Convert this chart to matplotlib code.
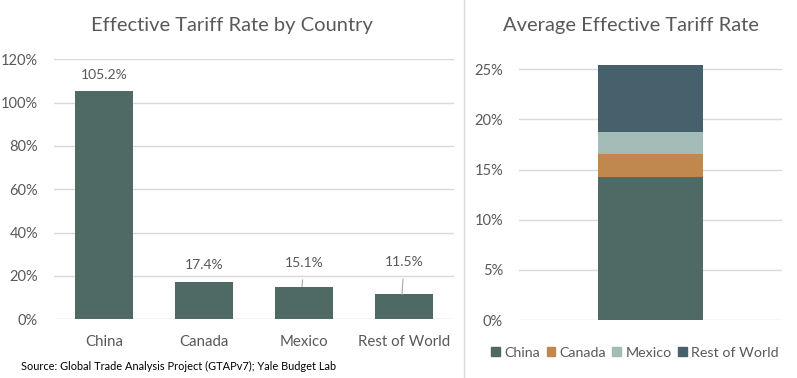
import matplotlib
matplotlib.use("Agg")
import matplotlib.pyplot as plt
from matplotlib.patches import Patch
from matplotlib.ticker import FuncFormatter

plt.rcParams["font.family"] = ["Lato", "DejaVu Sans"]

# data
countries = ["China", "Canada", "Mexico", "Rest of World"]
country_rates = [105.2, 17.4, 15.1, 11.5]
label_offsets = [7.5, 7.7, 11.0, 15.0]
avg_contrib = [14.3, 2.2, 2.25, 6.65]
stack_colors = ["#4f6a64", "#c0874f", "#a3bcb8", "#46606c"]

TEXT = "#595959"
GRID = "#d9d9d9"

fig = plt.figure(figsize=(7.97, 3.78), dpi=100)

# ---- left: rate by country
ax1 = fig.add_axes([54 / 797, 58.7 / 378, 400 / 797, 260 / 378])
x = range(len(countries))
ax1.bar(x, country_rates, width=0.58, color=stack_colors[0], zorder=3)
ax1.set_xlim(-0.5, 3.5)
ax1.set_ylim(0, 120)
ax1.set_yticks(range(0, 121, 20))
ax1.yaxis.set_major_formatter(FuncFormatter(lambda v, p: f"{v:.0f}%"))
ax1.set_xticks(list(x))
ax1.set_xticklabels(countries)
for i, (v, off) in enumerate(zip(country_rates, label_offsets)):
    if off > 8:
        ax1.annotate(f"{v}%", xy=(i - 0.02, v), xytext=(i, v + off),
                     ha="center", va="center", fontsize=10, color=TEXT,
                     arrowprops=dict(arrowstyle="-", color="#a6a6a6", lw=0.8,
                                     shrinkA=6, shrinkB=0))
    else:
        ax1.text(i, v + off, f"{v}%", ha="center", va="center",
                 fontsize=10, color=TEXT)

# ---- right: stacked average
ax2 = fig.add_axes([519 / 797, 58 / 378, 263 / 797, 260.8 / 378])
bottom = 0
for name, val, col in zip(countries, avg_contrib, stack_colors):
    ax2.bar([0], [val], bottom=bottom, width=0.4, color=col, zorder=3, label=name)
    bottom += val
ax2.set_xlim(-0.5, 0.5)
ax2.set_ylim(0, 26)
ax2.set_yticks(range(0, 26, 5))
ax2.yaxis.set_major_formatter(FuncFormatter(lambda v, p: f"{v:.0f}%"))
ax2.set_xticks([])

for ax in (ax1, ax2):
    for s in ax.spines.values():
        s.set_visible(False)
    ax.yaxis.grid(True, color=GRID, lw=1, zorder=0)
    ax.tick_params(axis="both", length=0, colors=TEXT, labelsize=10.5)
    ax.tick_params(axis="y", pad=11.5)
ax1.tick_params(axis="x", pad=11, labelsize=10.8)

handles = [Patch(color=c, label=n) for n, c in zip(countries, stack_colors)]
fig.legend(handles=handles, loc="center", bbox_to_anchor=(635 / 797, 1 - 353 / 378),
           ncol=4, frameon=False, fontsize=10.3, handlelength=0.6, handleheight=0.6,
           handletextpad=0.3, columnspacing=0.45, labelcolor=TEXT)

fig.text(232 / 797, 1 - 26 / 378, "Effective Tariff Rate by Country",
         ha="center", va="center", fontsize=14.5, color=TEXT)
fig.text(631 / 797, 1 - 26 / 378, "Average Effective Tariff Rate",
         ha="center", va="center", fontsize=14.5, color=TEXT)
fig.text(21 / 797, 1 - 366 / 378,
         "Source: Global Trade Analysis Project (GTAPv7); Yale Budget Lab",
         ha="left", va="center", fontsize=7.9, color="#000000")

fig.add_artist(plt.Line2D([464 / 797, 464 / 797], [0, 1], color=GRID, lw=1))

fig.savefig("out.png", dpi=100)
